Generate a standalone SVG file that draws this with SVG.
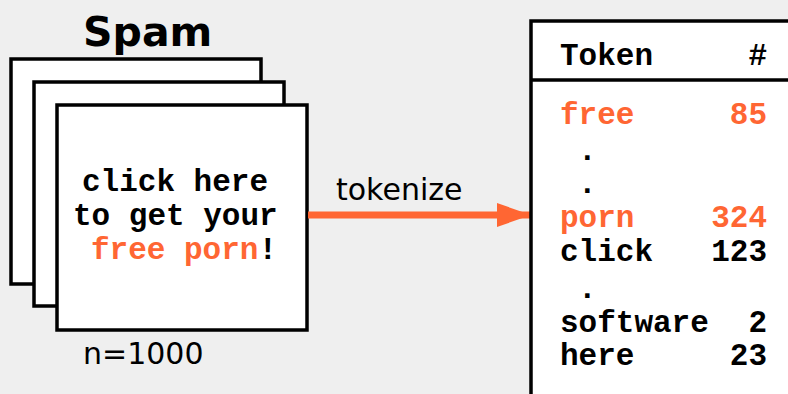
<svg xmlns="http://www.w3.org/2000/svg" width="788" height="394" viewBox="0 0 788 394">
  <style>
    .card { fill: #FFFFFF; stroke: #000000; stroke-width: 3.5; }
    .mono { font-family: "Liberation Mono", "Courier New", monospace; font-weight: bold; font-size: 31px; fill: #000000; }
    .hot { fill: #FF6633; }
    .sans { font-family: "DejaVu Sans", Verdana, sans-serif; fill: #000000; }
  </style>
  <defs>
    <marker id="arrowhead" markerWidth="34" markerHeight="24" refX="33" refY="12" orient="auto" markerUnits="userSpaceOnUse">
      <path d="M0,0 L34,12 L0,24 Z" fill="#FF6633"/>
    </marker>
  </defs>
  <rect x="0" y="0" width="788" height="394" fill="#EFEFEF"/>

  <g id="spam-title">
    <text class="sans" x="83" y="46" font-size="41" font-weight="bold">Spam</text>
  </g>

  <g id="spam-stack">
    <rect class="card" x="11" y="59" width="250" height="225"/>
    <rect class="card" x="34" y="82" width="250" height="224"/>
    <rect class="card" x="57" y="105" width="250" height="225"/>
    <text class="mono" x="82" y="191">click here</text>
    <text class="mono" x="73" y="225">to get your</text>
    <text class="mono" x="91" y="259"><tspan class="hot">free porn</tspan>!</text>
  </g>

  <g id="count-label">
    <text class="sans" x="83" y="364" font-size="30">n=1000</text>
  </g>

  <g id="connectors">
    <line x1="308" y1="215" x2="530" y2="215" stroke="#FF6633" stroke-width="7" marker-end="url(#arrowhead)"/>
    <text class="sans" x="336" y="200" font-size="30">tokenize</text>
  </g>

  <g id="token-table">
    <rect x="531" y="21" width="300" height="400" fill="#FFFFFF" stroke="#000000" stroke-width="3.5"/>
    <line x1="531" y1="80" x2="788" y2="80" stroke="#000000" stroke-width="3.5"/>
    <text class="mono" x="560" y="65">Token</text>
    <text class="mono" x="767" y="65" text-anchor="end">#</text>
    <text class="mono hot" x="560" y="124">free</text>
    <text class="mono hot" x="767" y="124" text-anchor="end">85</text>
    <text class="mono" x="578" y="160">.</text>
    <text class="mono" x="578" y="193">.</text>
    <text class="mono hot" x="560" y="227">porn</text>
    <text class="mono hot" x="767" y="227" text-anchor="end">324</text>
    <text class="mono" x="560" y="261">click</text>
    <text class="mono" x="767" y="261" text-anchor="end">123</text>
    <text class="mono" x="578" y="298">.</text>
    <text class="mono" x="560" y="332">software</text>
    <text class="mono" x="767" y="332" text-anchor="end">2</text>
    <text class="mono" x="560" y="365">here</text>
    <text class="mono" x="767" y="365" text-anchor="end">23</text>
  </g>
</svg>
